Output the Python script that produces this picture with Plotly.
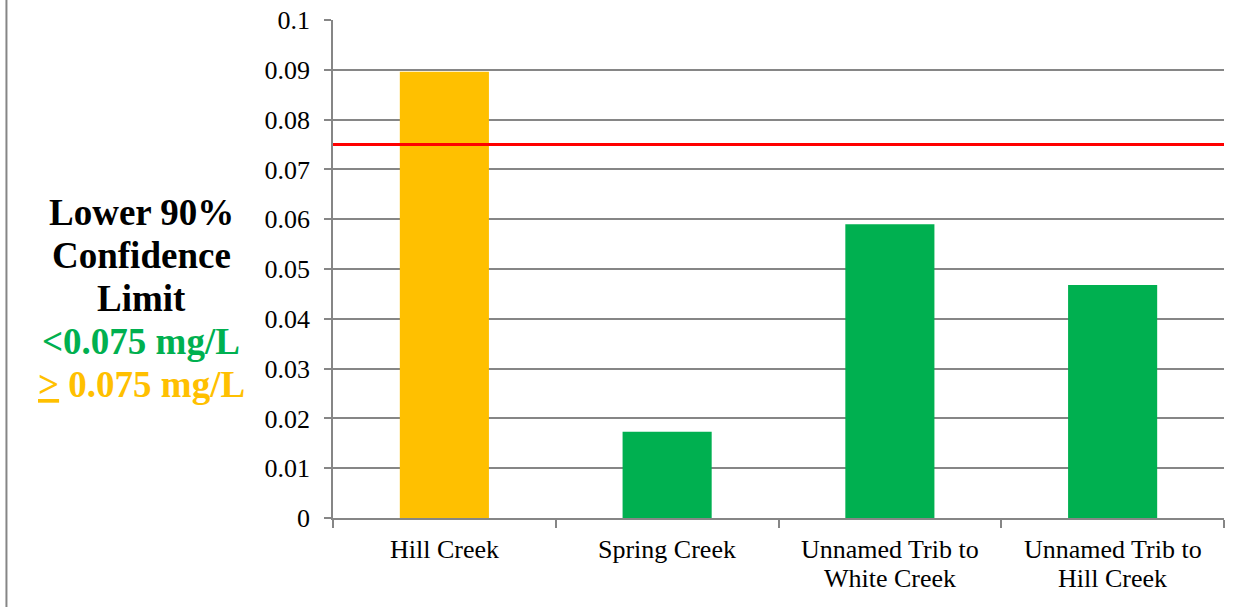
import plotly.graph_objects as go

categories = ["Hill Creek", "Spring Creek", "Unnamed Trib to<br>White Creek", "Unnamed Trib to<br>Hill Creek"]
values = [0.0896, 0.0173, 0.0590, 0.0468]
threshold = 0.075
tick_vals = [0, 0.01, 0.02, 0.03, 0.04, 0.05, 0.06, 0.07, 0.08, 0.09, 0.1]
tick_text = ["0", "0.01", "0.02", "0.03", "0.04", "0.05", "0.06", "0.07", "0.08", "0.09", "0.1"]

GREEN = "#00B050"
GOLD = "#FFC000"
colors = [GOLD if v >= threshold else GREEN for v in values]

font_family = "Liberation Serif"

fig = go.Figure()
fig.add_trace(go.Bar(x=categories, y=values, marker=dict(color=colors, line=dict(width=0)),
                     width=0.4, showlegend=False))

fig.add_shape(type="line", xref="paper", yref="y", x0=0, x1=1, y0=threshold, y1=threshold,
              line=dict(color="#FF0000", width=3))
# left border line
fig.add_shape(type="line", xref="paper", yref="paper", x0=-0.3665, x1=-0.3665, y0=-0.2, y1=1.05,
              line=dict(color="#868686", width=2))

# category labels (tight line spacing like the original)
for cat in categories:
    for i, line in enumerate(cat.split("<br>")):
        fig.add_annotation(text=line, xref="x", yref="paper", x=cat, y=0,
                           xanchor="center", yanchor="middle", yshift=-31 - 29 * i,
                           showarrow=False, font=dict(family=font_family, size=26, color="black"))

label_lines = [("<b>Lower 90%</b>", "black"), ("<b>Confidence</b>", "black"), ("<b>Limit</b>", "black"),
               ("<b><0.075 mg/L</b>", GREEN), ("<b><u>></u> 0.075 mg/L</b>", GOLD)]
y_px = [212, 255, 298, 341, 384]
for (txt, col), yp in zip(label_lines, y_px):
    fig.add_annotation(text=txt, xref="paper", yref="paper", x=(141 - 333) / 891, y=(518 - yp) / 498,
                       xanchor="center", yanchor="middle", showarrow=False,
                       font=dict(family=font_family, size=37, color=col))

fig.update_layout(
    width=1240, height=607,
    margin=dict(l=333, r=16, t=20, b=89, autoexpand=False),
    plot_bgcolor="white", paper_bgcolor="white",
    font=dict(family=font_family, size=26, color="black"),
    bargap=0.6,
)
fig.update_yaxes(range=[0, 0.1], tickvals=tick_vals, ticktext=tick_text, automargin=False,
                 showgrid=True, gridcolor="#868686", gridwidth=1.5,
                 showline=True, linecolor="#868686", linewidth=1.5,
                 ticks="outside", ticklen=7, tickcolor="#868686", tickwidth=1.5,
                 ticklabelstandoff=9, zeroline=False,
                 tickfont=dict(family=font_family, size=26, color="black"))
fig.update_xaxes(showline=True, linecolor="#868686", linewidth=1.5, automargin=False,
                 ticks="outside", ticklen=8, tickcolor="#868686", tickwidth=1.5,
                 tickson="boundaries", showgrid=False, showticklabels=False)

fig.write_html("out.html", post_script="document.body.style.margin='0';",
               config={"displayModeBar": False})
